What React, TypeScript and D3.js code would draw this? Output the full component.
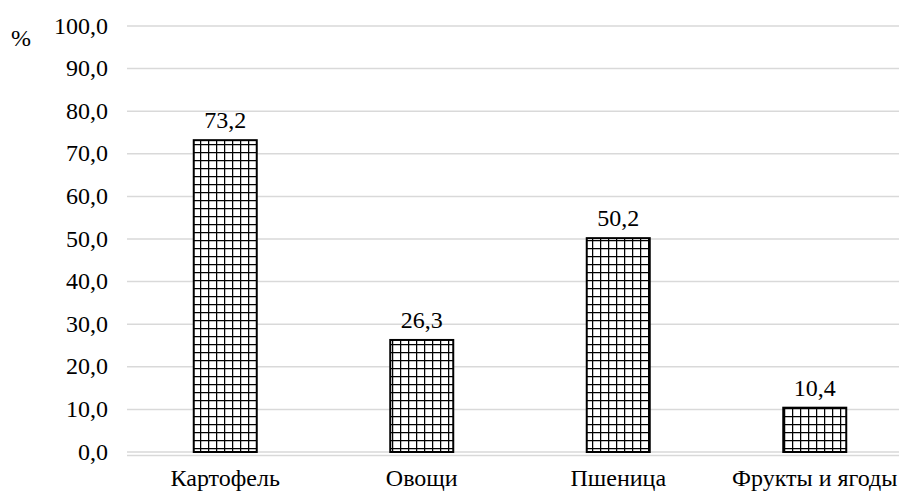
import React from "react";
import * as d3 from "d3";

const categories = ["Картофель", "Овощи", "Пшеница", "Фрукты и ягоды"];
const values = [73.2, 26.3, 50.2, 10.4];
const yTicks = [0, 10, 20, 30, 40, 50, 60, 70, 80, 90, 100];

const W = 899;
const H = 493;
const FS = 24;

const css = `
  svg.chart text { font-family: "Liberation Serif", "Times New Roman", Times, serif !important; font-size: ${FS}px; }
`;

export default function App() {
  const x = d3.scaleBand<string>().domain(categories).range([127, 913]).padding(0);
  const y = d3.scaleLinear().domain([0, 100]).range([452, 26]);
  const barW = 63;
  const fmt = (v: number) => v.toFixed(1).replace(".", ",");

  return (
    <svg
      className="chart"
      width={W}
      height={H}
      style={{ position: "absolute", left: 0, top: 0, background: "#fff" }}
    >
      <style>{css}</style>
      <defs>
        <pattern id="grid" width={8} height={8} patternUnits="userSpaceOnUse">
          <rect width={8} height={8} fill="#fff" />
          <line x1={0} y1={0} x2={8} y2={0} stroke="#000" strokeWidth={2.5} />
          <line x1={0} y1={0} x2={0} y2={8} stroke="#000" strokeWidth={2.5} />
        </pattern>
      </defs>

      {yTicks.map((t) => (
        <g key={t}>
          <line x1={127} x2={W} y1={y(t)} y2={y(t)} stroke="#d9d9d9" strokeWidth={1.5} />
          <text x={108} y={y(t) + 7.5} textAnchor="end" fontFamily="Liberation Serif" fontSize={FS}>
            {fmt(t)}
          </text>
        </g>
      ))}
      <line x1={127} x2={W} y1={y(0) + 3.5} y2={y(0) + 3.5} stroke="#d9d9d9" strokeWidth={1.5} />

      <text x={11} y={46} fontFamily="Liberation Serif" fontSize={FS}>
        %
      </text>

      {categories.map((c, i) => {
        const cx = (x(c) as number) + x.bandwidth() / 2;
        const top = y(values[i]);
        return (
          <g key={c}>
            <rect
              x={cx - barW / 2}
              y={top}
              width={barW}
              height={y(0) - top}
              fill="url(#grid)"
              stroke="#000"
              strokeWidth={2}
            />
            <text x={cx} y={top - 12} textAnchor="middle" fontFamily="Liberation Serif" fontSize={FS}>
              {fmt(values[i])}
            </text>
            <text x={cx} y={486} textAnchor="middle" fontFamily="Liberation Serif" fontSize={FS}>
              {c}
            </text>
          </g>
        );
      })}
    </svg>
  );
}
